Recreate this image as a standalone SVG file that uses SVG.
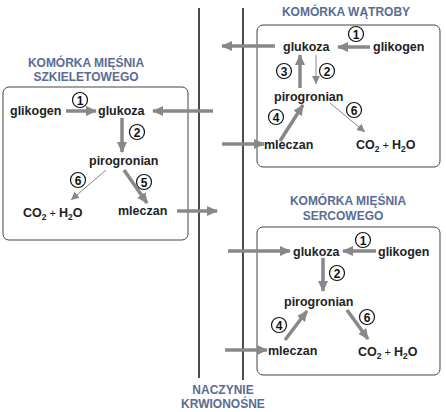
<svg xmlns="http://www.w3.org/2000/svg" width="446" height="412" viewBox="0 0 446 412">
<style>
.t{font-family:"Liberation Sans",Arial,sans-serif;font-weight:bold;font-size:12.5px;fill:#222}
.h{font-family:"Liberation Sans",Arial,sans-serif;font-weight:bold;font-size:12px;fill:#5a6c94;text-anchor:middle}
.s{font-size:8.5px}
.p{font-weight:normal;font-size:11px}
.box{fill:#fff;stroke:#444;stroke-width:1}
.c{fill:#fff;stroke:#111;stroke-width:1.2}
.n{font-family:"Liberation Sans",Arial,sans-serif;font-weight:bold;font-size:12px;fill:#111;text-anchor:middle}
.k{stroke:#888;stroke-width:3.5;fill:none;marker-end:url(#ak)}
.w{stroke:#888;stroke-width:1;fill:none;marker-end:url(#aw)}
.v{stroke:#111;stroke-width:1.5}
</style>
<defs>
<marker id="ak" markerUnits="userSpaceOnUse" markerWidth="12" markerHeight="10" refX="10" refY="5" orient="auto"><path d="M0,0 L11,5 L0,10 Z" fill="#888"/></marker>
<marker id="aw" markerUnits="userSpaceOnUse" markerWidth="9" markerHeight="8" refX="8" refY="4" orient="auto"><path d="M0,0 L8,4 L0,8 Z" fill="#888"/></marker>
</defs>
<g id="vessel">
<line class="v" x1="199" y1="8" x2="199" y2="378"/>
<line class="v" x1="243" y1="8" x2="243" y2="380"/>
<text class="h" x="223" y="394">NACZYNIE</text>
<text class="h" x="223" y="408">KRWIONOŚNE</text>
</g>
<g id="liver">
<text class="h" x="346" y="16">KOMÓRKA  WĄTROBY</text>
<rect class="box" x="257" y="25" width="183" height="142" rx="6"/>
<text class="t" x="283" y="51">glukoza</text>
<text class="t" x="373" y="51">glikogen</text>
<text class="t" x="274" y="101">pirogronian</text>
<text class="t" x="264" y="149">mleczan</text>
<text class="t" x="356" y="149">CO<tspan class="s" dy="3">2</tspan><tspan class="p" dy="-3"> + </tspan>H<tspan class="s" dy="3">2</tspan><tspan dy="-3">O</tspan></text>
</g>
<g id="skeletal">
<text class="h" x="86" y="67">KOMÓRKA  MIĘŚNIA</text>
<text class="h" x="86" y="81">SZKIELETOWEGO</text>
<rect class="box" x="3" y="87" width="185" height="153" rx="6"/>
<text class="t" x="10" y="115">glikogen</text>
<text class="t" x="98" y="115">glukoza</text>
<text class="t" x="89" y="165">pirogronian</text>
<text class="t" x="23" y="217">CO<tspan class="s" dy="3">2</tspan><tspan class="p" dy="-3"> + </tspan>H<tspan class="s" dy="3">2</tspan><tspan dy="-3">O</tspan></text>
<text class="t" x="118" y="215">mleczan</text>
</g>
<g id="heart">
<text class="h" x="348" y="205">KOMÓRKA  MIĘŚNIA</text>
<text class="h" x="343" y="220">SERCOWEGO</text>
<rect class="box" x="257" y="227" width="183" height="148" rx="6"/>
<text class="t" x="293" y="256">glukoza</text>
<text class="t" x="378" y="256">glikogen</text>
<text class="t" x="284" y="306">pirogronian</text>
<text class="t" x="268" y="355">mleczan</text>
<text class="t" x="358" y="356">CO<tspan class="s" dy="3">2</tspan><tspan class="p" dy="-3"> + </tspan>H<tspan class="s" dy="3">2</tspan><tspan dy="-3">O</tspan></text>
</g>
<g id="labels">
<circle class="c" cx="356" cy="34" r="7.5"/><text class="n" x="356" y="38.5">1</text>
<circle class="c" cx="284" cy="71" r="7.5"/><text class="n" x="284" y="75.5">3</text>
<circle class="c" cx="327" cy="71" r="7.5"/><text class="n" x="327" y="75.5">2</text>
<circle class="c" cx="276" cy="117" r="7.5"/><text class="n" x="276" y="121.5">4</text>
<circle class="c" cx="354" cy="110" r="7.5"/><text class="n" x="354" y="114.5">6</text>
<circle class="c" cx="80" cy="100" r="7.5"/><text class="n" x="80" y="104.5">1</text>
<circle class="c" cx="137" cy="132" r="7.5"/><text class="n" x="137" y="136.5">2</text>
<circle class="c" cx="78" cy="180" r="7.5"/><text class="n" x="78" y="184.5">6</text>
<circle class="c" cx="144" cy="182" r="7.5"/><text class="n" x="144" y="186.5">5</text>
<circle class="c" cx="363" cy="240" r="7.5"/><text class="n" x="363" y="244.5">1</text>
<circle class="c" cx="337" cy="273" r="7.5"/><text class="n" x="337" y="277.5">2</text>
<circle class="c" cx="279" cy="325" r="7.5"/><text class="n" x="279" y="329.5">4</text>
<circle class="c" cx="367" cy="317" r="7.5"/><text class="n" x="367" y="321.5">6</text>
</g>
<g id="connectors">
<line class="k" x1="370" y1="47" x2="338" y2="47"/>
<line class="k" x1="275" y1="46" x2="222" y2="46"/>
<line class="k" x1="300" y1="88" x2="300" y2="55"/>
<line class="w" x1="316" y1="55" x2="316" y2="84"/>
<line class="k" x1="280" y1="141" x2="303" y2="105"/>
<line class="w" x1="330" y1="103" x2="365" y2="132"/>
<line class="k" x1="222" y1="144" x2="264" y2="144"/>
<line class="k" x1="66" y1="111" x2="96" y2="111"/>
<line class="k" x1="213" y1="111" x2="153" y2="111"/>
<line class="k" x1="122" y1="118" x2="122" y2="152"/>
<line class="w" x1="106" y1="170" x2="71" y2="200"/>
<line class="k" x1="124" y1="170" x2="147" y2="203"/>
<line class="k" x1="177" y1="211" x2="217" y2="211"/>
<line class="k" x1="228" y1="251" x2="290" y2="251"/>
<line class="k" x1="376" y1="251" x2="343" y2="251"/>
<line class="k" x1="323" y1="258" x2="323" y2="291"/>
<line class="k" x1="285" y1="340" x2="307" y2="311"/>
<line class="k" x1="347" y1="310" x2="368" y2="339"/>
<line class="k" x1="225" y1="350" x2="267" y2="350"/>
</g>
</svg>
